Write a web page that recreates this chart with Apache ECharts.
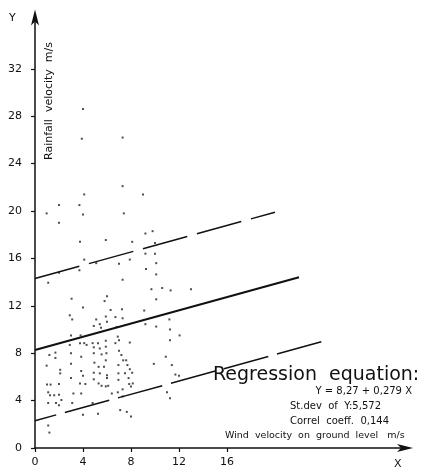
<!DOCTYPE html>
<html><head><meta charset="utf-8">
<script src="https://cdn.jsdelivr.net/npm/echarts@6/dist/echarts.min.js"></script>
<style>html,body{margin:0;padding:0;background:#fff}#c{width:434px;height:472px}</style>
</head><body><div id="c"></div>
<script>
const windX = [0.97,2.0,2.0,3.7,4.1,4.0,7.3,7.4,9.0,3.75,4.1,3.7,2.0,1.1,5.9,5.1,7.0,7.3,7.9,8.1,9.2,9.8,10.0,9.2,10.0,10.1,9.25,10.1,9.7,10.6,11.3,13.0,10.1,3.05,4.0,2.9,3.1,5.8,6.0,4.9,5.1,5.4,5.5,5.9,6.0,6.7,7.25,7.3,6.8,9.1,9.2,10.1,11.2,11.25,11.25,12.05,10.9,11.4,11.7,12.0,11.0,11.25,9.9,0.97,1.2,1.7,1.7,2.1,2.1,1.0,1.3,2.0,1.1,1.25,1.6,2.0,1.1,1.75,2.0,2.2,1.1,1.2,3.0,2.9,3.0,3.0,3.0,3.2,3.1,3.75,3.8,3.85,3.85,3.75,3.85,4.0,4.2,4.0,4.1,4.3,4.8,4.9,4.9,4.95,4.9,4.9,4.8,5.25,5.25,5.4,5.55,5.3,5.4,5.3,5.55,5.9,5.9,5.95,5.9,5.75,6.0,6.0,6.1,5.9,6.4,6.7,6.9,7.0,7.0,6.95,6.95,6.95,6.9,7.2,7.35,7.5,7.6,7.7,7.8,7.9,8.1,8.15,7.85,7.3,7.3,7.1,7.65,8.0,8.0,6.3,4.0,3.9,7.3,7.9];
const rainY = [19.8,20.5,19.0,20.5,21.4,19.7,22.1,19.8,21.4,17.4,15.9,15.0,14.8,13.95,17.55,15.6,15.55,14.2,15.9,17.4,18.1,18.3,17.3,16.4,16.4,15.6,15.1,14.65,13.4,13.5,13.3,13.4,12.55,12.6,11.85,11.2,10.85,12.4,12.8,10.3,10.85,10.45,10.15,11.1,10.65,11.05,11.7,10.95,10.2,11.6,10.45,10.25,10.85,10.0,9.1,9.5,7.7,7.0,6.2,6.1,4.7,4.2,7.1,6.95,7.85,8.05,7.6,6.6,6.3,5.35,5.35,5.4,4.7,4.45,4.45,4.5,3.8,3.8,3.6,4.05,1.9,1.3,9.5,8.7,8.0,7.1,5.9,4.6,3.8,8.85,9.5,7.7,6.5,5.45,4.6,6.1,5.4,2.8,8.85,8.7,8.85,8.5,8.0,7.2,6.35,5.8,3.8,2.9,8.85,8.4,7.9,6.85,6.3,5.45,5.25,9.05,8.55,8.0,7.4,6.85,6.15,5.9,5.25,5.2,4.6,8.85,9.4,9.1,8.2,7.0,6.3,5.75,4.7,7.85,7.4,6.3,7.4,7.0,5.9,6.65,6.35,5.45,5.4,4.95,4.35,3.2,3.05,2.65,5.2,11.65,28.6,26.1,26.2,8.9];
const regLine = [[0, 8.27], [22, 14.41]];
const upperLine = [[0, 14.3], [20, 19.9]];
const lowerLine = [[0, 2.3], [24, 9.0]];
const xTicks = [0, 4, 8, 12, 16];
const yTicks = [0, 4, 8, 12, 16, 20, 24, 28, 32];
const eqTitle = 'Regression  equation:';
const eqLines = ['Y = 8,27 + 0,279 X', 'St.dev  of  Y:5,572', 'Correl  coeff.  0,144'];

const pts = windX.map((x, i) => [x, rainY[i]]);
const F = 'DejaVu Sans';
const chart = echarts.init(document.getElementById('c'));
chart.setOption({
  animation: false,
  backgroundColor: '#fff',
  grid: { left: 35, right: 27, top: 15.5, bottom: 24, containLabel: false },
  xAxis: {
    type: 'value', min: 0, max: 31,
    splitLine: { show: false },
    axisLine: { lineStyle: { color: '#111', width: 1.5 }, symbol: ['none', 'arrow'], symbolSize: [6, 16], symbolOffset: [0, 6] },
    axisTick: { customValues: xTicks, length: 4, lineStyle: { color: '#111', width: 1.2 } },
    axisLabel: { customValues: xTicks, color: '#111', fontFamily: F, fontSize: 11, margin: 9 }
  },
  yAxis: {
    type: 'value', min: 0, max: 36.5,
    splitLine: { show: false },
    axisLine: { lineStyle: { color: '#111', width: 1.5 }, symbol: ['none', 'arrow'], symbolSize: [6, 16], symbolOffset: [0, 6] },
    axisTick: { customValues: yTicks, length: 4, lineStyle: { color: '#111', width: 1.2 } },
    axisLabel: { customValues: yTicks, color: '#111', fontFamily: F, fontSize: 11, margin: 13 }
  },
  series: [
    { type: 'scatter', data: pts, symbol: 'rect', symbolSize: 2, itemStyle: { color: '#222' }, silent: true, z: 3 },
    { type: 'line', data: regLine, symbol: 'none', lineStyle: { color: '#111', width: 2.2 }, z: 4 },
    { type: 'line', data: upperLine, symbol: 'none', lineStyle: { color: '#111', width: 1.5, type: [46, 10] }, z: 4 },
    { type: 'line', data: lowerLine, symbol: 'none', lineStyle: { color: '#111', width: 1.5, type: [46, 9], dashOffset: 24 }, z: 4 }
  ],
  graphic: [
    { type: 'text', left: 9, top: 13, style: { text: 'Y', fontFamily: F, fontSize: 11, fill: '#111' } },
    { type: 'text', left: 394, top: 459, style: { text: 'X', fontFamily: F, fontSize: 11, fill: '#111' } },
    { type: 'text', x: 49, y: 101, rotation: Math.PI / 2, style: { text: 'Rainfall  velocity  m/s', fontFamily: F, fontSize: 11, fill: '#111', align: 'center', verticalAlign: 'middle' } },
    { type: 'text', left: 225, top: 431, style: { text: 'Wind  velocity  on  ground  level   m/s', fontFamily: F, fontSize: 9.5, fill: '#111' } },
    { type: 'text', left: 213, top: 366, style: { text: eqTitle, fontFamily: F, fontSize: 19, fill: '#111' } },
    { type: 'text', right: 22, top: 386, style: { text: eqLines[0], fontFamily: F, fontSize: 10, fill: '#111' } },
    { type: 'text', left: 290, top: 401, style: { text: eqLines[1], fontFamily: F, fontSize: 10, fill: '#111' } },
    { type: 'text', left: 290, top: 416, style: { text: eqLines[2], fontFamily: F, fontSize: 10, fill: '#111' } }
  ]
});
</script></body></html>
